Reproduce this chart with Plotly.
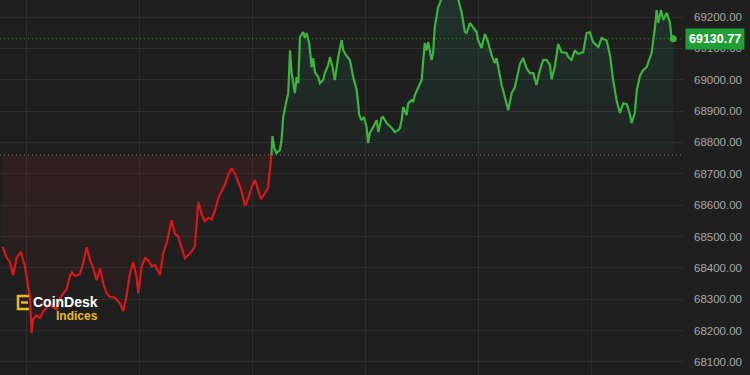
import plotly.graph_objects as go

# ---------------- data ----------------
minutes = [-12.9, -10.8, -9.0, -7.3, -5.5, -3.2, -1.1, 0.7, 1.6, 2.5, 3.3, 5.2, 6.9, 8.5, 10.5, 12.2, 13.8, 15.8,
           17.5, 19.3, 21.1, 22.8, 23.9, 25.5, 28.1, 29.9, 31.7, 33.5, 35.2, 37.0, 38.8, 40.5, 42.3, 44.1, 45.8,
           47.6, 49.4, 51.1, 52.9, 54.7, 56.4, 58.2, 59.1, 60.9, 62.7, 64.4, 66.2, 68.0, 70.6, 72.4, 74.2, 76.8,
           78.6, 80.3, 82.1, 83.9, 85.7, 87.5, 89.2, 90.1, 91.0, 92.8, 94.5, 96.3, 98.1, 99.8, 101.6, 103.4,
           105.1, 106.9, 108.7, 110.4, 112.2, 114.0, 115.8, 117.5, 119.3, 121.1, 122.8, 124.3, 126.4, 128.1,
           129.0, 129.9, 130.4, 131.4, 132.5, 134.3, 135.2, 136.1, 137.9, 138.8, 139.7, 140.6, 142.3, 143.2,
           144.1, 145.0, 146.7, 147.6, 148.5, 149.9, 151.2, 152.0, 152.9, 154.7, 155.6, 157.3, 158.2, 160.0,
           160.9, 162.3, 163.5, 165.3, 167.1, 168.0, 169.4, 171.5, 173.3, 175.1, 176.5, 177.7, 178.9, 180.4,
           181.2, 182.1, 183.9, 185.7, 186.6, 188.3, 189.2, 191.0, 193.7, 195.4, 197.2, 198.1, 199.0, 199.8,
           201.6, 202.5, 204.3, 205.1, 206.0, 207.8, 209.6, 210.4, 211.3, 212.2, 213.1, 214.9, 215.7, 216.6,
           217.5, 218.4, 219.3, 220.4, 222.5, 224.6, 227.3, 229.0, 230.8, 232.6, 233.5, 235.2, 237.0, 238.8,
           239.6, 241.4, 243.2, 244.9, 246.7, 248.5, 249.4, 251.2, 252.1, 253.8, 255.6, 257.4, 259.1, 261.8,
           263.5, 265.3, 267.1, 268.9, 270.6, 272.4, 274.2, 276.0, 277.7, 278.6, 280.4, 282.1, 283.9, 286.6,
           287.5, 289.2, 291.0, 292.7, 295.4, 297.2, 298.9, 300.7, 303.4, 305.2, 307.8, 309.6, 311.3, 313.1,
           314.9, 316.7, 318.5, 320.2, 321.1, 322.8, 323.9, 325.5, 327.3, 329.1, 329.9, 331.7, 333.5, 334.4,
           335.3, 336.7, 337.9, 339.7, 341.4, 342.3, 343.2]

prices = [68467, 68434, 68418, 68377, 68431, 68451, 68405, 68348, 68307, 68192, 68236, 68249, 68240, 68259,
          68275, 68287, 68275, 68268, 68303, 68319, 68332, 68374, 68386, 68374, 68380, 68415, 68466, 68425,
          68399, 68361, 68399, 68351, 68319, 68307, 68307, 68300, 68287, 68262, 68310, 68383, 68418, 68374,
          68319, 68402, 68431, 68425, 68405, 68409, 68377, 68447, 68479, 68552, 68508, 68501, 68463, 68431,
          68441, 68453, 68469, 68530, 68610, 68571, 68549, 68559, 68555, 68581, 68622, 68645, 68664, 68696,
          68718, 68702, 68670, 68645, 68597, 68622, 68657, 68680, 68648, 68619, 68638, 68657, 68712, 68766,
          68820, 68782, 68766, 68775, 68807, 68881, 68935, 68957, 69094, 69021, 68957, 69008, 68989, 69136,
          69152, 69133, 69149, 69117, 69040, 69069, 69024, 69008, 68989, 68999, 69021, 69047, 69072, 69040,
          68999, 69072, 69126, 69094, 69079, 69063, 69008, 68967, 68887, 68871, 68881, 68849, 68798, 68830,
          68849, 68871, 68833, 68878, 68881, 68862, 68846, 68833, 68839, 68846, 68871, 68913, 68887, 68925,
          68935, 68929, 68951, 68976, 68999, 69056, 69117, 69094, 69120, 69063, 69085, 69168, 69206, 69232,
          69244, 69264, 69286, 69280, 69273, 69257, 69216, 69152, 69149, 69181, 69165, 69152, 69126, 69101,
          69146, 69120, 69079, 69053, 69069, 69008, 68983, 68945, 68903, 68957, 68976, 69050, 69069, 69037,
          69021, 69021, 68983, 69031, 69063, 69063, 69047, 69002, 69043, 69114, 69088, 69085, 69072, 69063,
          69094, 69082, 69088, 69149, 69152, 69120, 69104, 69133, 69126, 69079, 68999, 68935, 68894, 68925,
          68922, 68890, 68862, 68894, 68967, 69012, 69031, 69040, 69056, 69085, 69165, 69222, 69181, 69222,
          69190, 69213, 69184, 69136, 69130.77]

baseline = 68760
last_price = 69130.77
y_ticks = [68100, 68200, 68300, 68400, 68500, 68600, 68700, 68800, 68900, 69000, 69100, 69200]
last_label = "69130.77"

# ---------------- styling ----------------
BG = "#1f1f1f"
GRID = "#2e2e2e"
RED = "#d81818"
GREEN = "#3db53d"

# split into above/below-baseline segments (insert crossing points for colouring)
segments = []
cur_x, cur_y = [minutes[0]], [prices[0]]
cur_up = prices[0] >= baseline
for i in range(1, len(prices)):
    up = prices[i] >= baseline
    if up != cur_up:
        x0, y0, x1, y1 = minutes[i - 1], prices[i - 1], minutes[i], prices[i]
        xc = x0 + (baseline - y0) * (x1 - x0) / (y1 - y0)
        cur_x.append(xc); cur_y.append(baseline)
        segments.append((cur_up, cur_x, cur_y))
        cur_x, cur_y = [xc], [baseline]
        cur_up = up
    cur_x.append(minutes[i]); cur_y.append(prices[i])
segments.append((cur_up, cur_x, cur_y))

fig = go.Figure()

for up, sx, sy in segments:
    if up:
        fg = dict(type="vertical", start=baseline, stop=max(sy),
                  colorscale=[[0, "rgba(40,170,120,0.04)"], [1, "rgba(40,170,120,0.14)"]])
    else:
        fg = dict(type="vertical", start=min(sy), stop=baseline,
                  colorscale=[[0, "rgba(220,30,30,0.02)"], [1, "rgba(220,30,30,0.10)"]])
    fig.add_trace(go.Scatter(
        x=sx + [sx[-1], sx[0]], y=sy + [baseline, baseline],
        mode="none", fill="toself", fillgradient=fg,
        hoverinfo="skip", showlegend=False))

for up, sx, sy in segments:
    fig.add_trace(go.Scatter(
        x=sx, y=sy, mode="lines",
        line=dict(color=GREEN if up else RED, width=2.2),
        showlegend=False, hoverinfo="skip"))

# last point marker
fig.add_trace(go.Scatter(x=[minutes[-1]], y=[prices[-1]], mode="markers",
                         marker=dict(color=GREEN, size=7), showlegend=False, hoverinfo="skip"))

# baseline and last-price dotted lines
fig.add_shape(type="line", xref="paper", x0=0, x1=1, yref="y", y0=baseline, y1=baseline,
              line=dict(color="rgba(190,190,190,0.55)", width=1, dash="1px,3px"))
fig.add_shape(type="line", xref="paper", x0=0, x1=1, yref="y", y0=last_price, y1=last_price,
              line=dict(color="rgba(70,160,70,0.7)", width=1, dash="1px,3px"))

# last price tag
fig.add_annotation(xref="paper", x=1, xanchor="left", xshift=2, yref="y", y=last_price,
                   text="<b>" + last_label + "</b>", showarrow=False,
                   font=dict(family="Liberation Sans, Arial", size=12.5, color="white"),
                   bgcolor="#1f9e35", borderpad=3)

# CoinDesk Indices logo
fig.add_annotation(xref="paper", yref="paper", x=100 / 683, y=1 - 302 / 375, xanchor="right", yanchor="middle",
                   text="<b>CoinDesk</b>", showarrow=False,
                   font=dict(family="Liberation Sans, Arial", size=14, color="white"))
fig.add_annotation(xref="paper", yref="paper", x=100 / 683, y=1 - 316 / 375, xanchor="right", yanchor="middle",
                   text="<b>Indices</b>", showarrow=False,
                   font=dict(family="Liberation Sans, Arial", size=12, color="#e8b923"))
fig.add_shape(type="path", xref="paper", yref="paper",
              path=f"M {29/683},{1-296/375} L {18/683},{1-296/375} L {18/683},{1-309/375} L {29/683},{1-309/375}",
              line=dict(color="#e8b923", width=2.5))
fig.add_shape(type="line", xref="paper", yref="paper", x0=21 / 683, x1=28 / 683,
              y0=1 - 302.5 / 375, y1=1 - 302.5 / 375,
              line=dict(color="#e8b923", width=2.5))

fig.update_layout(
    width=750, height=375,
    margin=dict(l=0, r=67, t=0, b=0),
    paper_bgcolor=BG, plot_bgcolor=BG,
    showlegend=False,
    xaxis=dict(range=[-14.3, 348.4], tick0=0, dtick=60, showgrid=True, gridcolor=GRID, gridwidth=1,
               showticklabels=False, zeroline=False, showline=False, ticks=""),
    yaxis=dict(range=[68058.5, 69254.2], side="right", tickvals=y_ticks,
               ticktext=[f"{v:.2f}" for v in y_ticks],
               showgrid=True, gridcolor=GRID, gridwidth=1, zeroline=False, showline=False,
               ticks="", ticklabelstandoff=10, automargin=False,
               tickfont=dict(family="Liberation Sans, Arial", size=11.5, color="#a9a9a9")),
)

fig.write_html("out.html")
